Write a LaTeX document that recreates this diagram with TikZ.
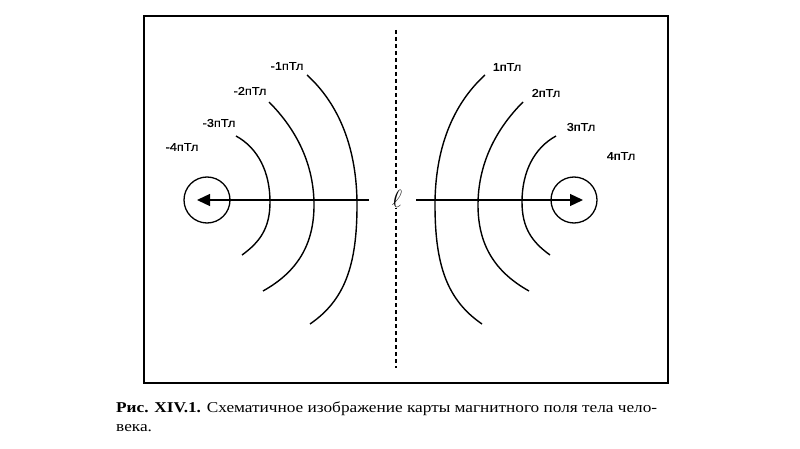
\documentclass[tikz,border=0pt]{standalone}
\usepackage{fontspec}
\setmainfont{Liberation Serif}
\newfontfamily\lblfont{Liberation Sans}[FakeStretch=1.12, FakeBold=1]
\newfontfamily\capfont{Liberation Serif}[FakeStretch=1.15]
\usetikzlibrary{arrows.meta}
\begin{document}
\begin{tikzpicture}[x=1pt,y=-1pt,
  fieldline/.style={line width=1.4pt},
  lbl/.style={font=\lblfont\fontsize{11.3}{13}\selectfont, inner sep=0pt},
  ring/.style={draw, circle, line width=1.3pt, minimum size=46pt, inner sep=0pt},
  vec/.style={line width=1.3pt, -{Triangle[length=13pt,width=12pt]}},
  frame/.style={line width=1.8pt}]
\useasboundingbox (0,0) rectangle (800,449);
% frame
\draw[frame] (144,16) rectangle (668,383);
% axis
\draw[line width=1.4pt, dash pattern=on 4pt off 3pt] (396,30) -- (396,368);
\node[fill=white, inner sep=0.5pt, font=\fontsize{31}{31}\selectfont] (ell) at (397,199) {$\ell$};
% rings
\node[ring] (lring) at (207,200) {};
\node[ring] (rring) at (574,200) {};
\coordinate (lstart) at (369,200);
\coordinate (rstart) at (416,200);
\coordinate (ltip) at (197,200);
\coordinate (rtip) at (583,200);
\draw[vec] (lstart) -- (ltip);
\draw[vec] (rstart) -- (rtip);
% left field lines
\draw[fieldline] (307,75) .. controls (340,105) and (357,150) .. (357,205) .. controls (357,265) and (345,300) .. (310,324);
\draw[fieldline] (269,102) .. controls (297,130) and (314,165) .. (314,205) .. controls (314,245) and (297,272) .. (263,291);
\draw[fieldline] (236,136) .. controls (258,148) and (270,172) .. (270,202) .. controls (270,228) and (260,242) .. (242,255);
% right field lines
\draw[fieldline] (485,75) .. controls (452,105) and (435,150) .. (435,205) .. controls (435,265) and (447,300) .. (482,324);
\draw[fieldline] (523,102) .. controls (495,130) and (478,165) .. (478,205) .. controls (478,245) and (495,272) .. (529,291);
\draw[fieldline] (556,136) .. controls (534,148) and (522,172) .. (522,202) .. controls (522,228) and (532,242) .. (550,255);
% labels
\node[lbl] (m1) at (287,66) {-1пТл};
\node[lbl] (m2) at (250,91) {-2пТл};
\node[lbl] (m3) at (219,123) {-3пТл};
\node[lbl] (m4) at (182,147) {-4пТл};
\node[lbl] (p1) at (507,67) {1пТл};
\node[lbl] (p2) at (546,93) {2пТл};
\node[lbl] (p3) at (581,127) {3пТл};
\node[lbl] (p4) at (621,156) {4пТл};
% caption
\node[anchor=base west, inner sep=0pt, align=left, font=\capfont\fontsize{15}{19}\selectfont] (cap) at (116,431)
  {\textbf{Рис. XIV.1.} Схематичное изображение карты магнитного поля тела чело-\\века.};
\end{tikzpicture}
\end{document}
